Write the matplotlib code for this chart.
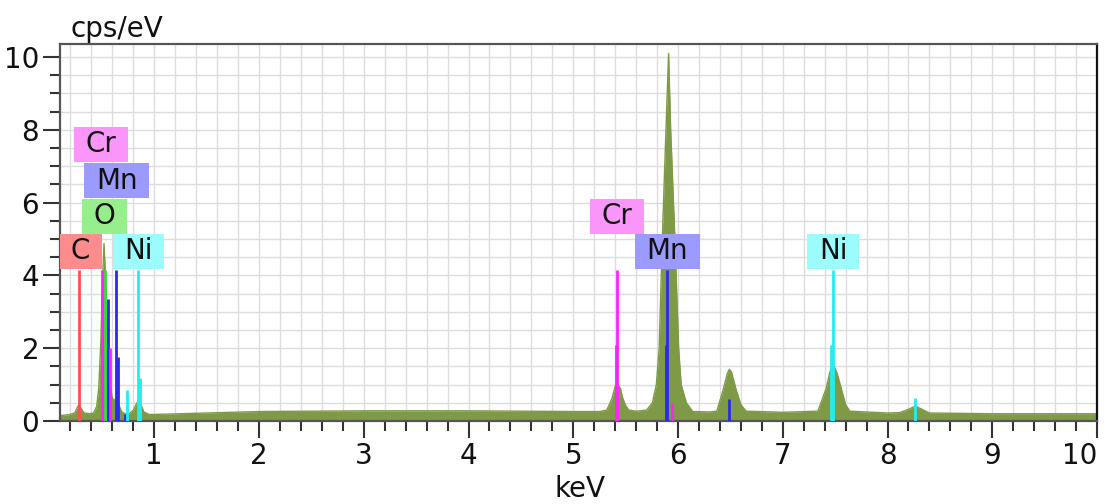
import matplotlib
matplotlib.use('Agg')
import matplotlib.pyplot as plt
from matplotlib.patches import Rectangle
from matplotlib.ticker import MultipleLocator

# spectrum (keV, cps/eV)
energy = [0.10, 0.18, 0.24, 0.27, 0.28, 0.30, 0.33, 0.38, 0.42, 0.45, 0.47, 0.49,
          0.505, 0.52, 0.535, 0.55, 0.565, 0.58, 0.60, 0.62, 0.64, 0.66, 0.69, 0.72,
          0.76, 0.80, 0.83, 0.85, 0.87, 0.90, 0.95, 1.0, 1.5, 2.0, 2.5, 3.0, 3.5,
          4.0, 4.5, 5.0, 5.25, 5.32, 5.37, 5.40, 5.42, 5.45, 5.47, 5.50, 5.53, 5.60,
          5.70, 5.755, 5.793, 5.82, 5.85, 5.885, 5.91, 5.93, 5.97, 6.006, 6.03, 6.08,
          6.14, 6.30, 6.37, 6.43, 6.47, 6.49, 6.51, 6.556, 6.60, 6.65, 7.0, 7.335,
          7.415, 7.45, 7.485, 7.52, 7.558, 7.60, 7.64, 8.0, 8.115, 8.20, 8.267, 8.33,
          8.40, 9.0, 10.0]
counts = [0.15, 0.17, 0.22, 0.40, 0.44, 0.35, 0.22, 0.20, 0.22, 0.40, 0.9, 2.2,
          3.8, 4.88, 3.9, 2.6, 1.6, 0.95, 0.62, 0.58, 0.56, 0.45, 0.25, 0.20,
          0.20, 0.30, 0.48, 0.55, 0.48, 0.25, 0.18, 0.18, 0.22, 0.26, 0.27, 0.28, 0.28,
          0.28, 0.27, 0.26, 0.26, 0.30, 0.62, 0.95, 1.03, 0.90, 0.65, 0.42, 0.30, 0.27,
          0.30, 0.5, 1.0, 2.0, 5.0, 8.0, 10.1, 8.0, 5.0, 2.0, 1.0, 0.5,
          0.26, 0.25, 0.27, 0.85, 1.3, 1.42, 1.35, 0.85, 0.45, 0.27, 0.24, 0.27,
          0.9, 1.35, 1.54, 1.3, 0.9, 0.45, 0.27, 0.22, 0.23, 0.32, 0.41, 0.32,
          0.22, 0.20, 0.20]

# element marker lines
line_elem = ['C', 'O', 'Cr', 'Mn', 'Cr', 'Mn', 'Mn', 'Mn', 'Ni', 'Ni', 'Ni',
             'Cr', 'Cr', 'Cr', 'Mn', 'Mn', 'Mn', 'Ni', 'Ni', 'Ni']
line_keV = [0.277, 0.525, 0.497, 0.556, 0.573, 0.637, 0.649, 0.722, 0.743, 0.849, 0.868,
            5.414, 5.405, 5.947, 5.899, 5.888, 6.490, 7.478, 7.461, 8.265]
line_height = [4.15, 4.15, 4.15, 3.35, 2.0, 4.15, 1.77, 0.2, 0.85, 4.15, 1.18,
               4.15, 2.1, 0.5, 4.15, 2.1, 0.6, 4.15, 2.1, 0.62]

# label boxes
label_names = ['Cr', 'Mn', 'O', 'C', 'Ni', 'Cr', 'Mn', 'Ni']
label_x = [0.495, 0.64, 0.524, 0.295, 0.85, 5.42, 5.90, 7.48]
label_y = [7.6, 6.6, 5.63, 4.67, 4.67, 5.63, 4.66, 4.67]

line_col = {'C': '#ff5050', 'O': '#33dd33', 'Cr': '#ff22ff', 'Mn': '#2a2aee', 'Ni': '#22eeee'}
box_col = {'C': '#ff8c8c', 'O': '#96ee8c', 'Cr': '#fa96fa', 'Mn': '#9b9bff', 'Ni': '#9cfcfc'}

plt.rcParams['font.family'] = ['DejaVu Sans']
plt.rcParams['font.size'] = 20

fig = plt.figure(figsize=(11.07, 5.04), dpi=100)
ax = fig.add_axes([60 / 1107, 83 / 504, 1037 / 1107, 377 / 504])

ax.set_xlim(0.1, 10)
ax.set_ylim(0, 10.36)
ax.xaxis.set_major_locator(MultipleLocator(1))
ax.xaxis.set_minor_locator(MultipleLocator(0.2))
ax.yaxis.set_major_locator(MultipleLocator(2))
ax.yaxis.set_minor_locator(MultipleLocator(0.5))
ax.grid(which='both', color='#dcdcdc', linewidth=1)
ax.set_axisbelow(True)
ax.tick_params(which='major', length=12, width=1.5, color='#333333', labelcolor='#111111', pad=3)
ax.tick_params(which='minor', length=7, width=1.5, color='#333333')
for s in ax.spines.values():
    s.set_color('#555555')
    s.set_linewidth(1.6)
ax.spines['right'].set_color('#111111')

ax.fill_between(energy, counts, 0, color='#7e9a46', linewidth=0, zorder=2)
ax.plot(energy, counts, color='#7e9a46', linewidth=1, zorder=2)

for el, e, h in zip(line_elem, line_keV, line_height):
    ax.vlines(e, 0, h, color=line_col[el], linewidth=2, zorder=3)

fig.canvas.draw()
# keep the last x tick label inside the figure
xlabels = ax.get_xticklabels()
for lab in xlabels:
    if lab.get_text() == '10':
        lab.set_horizontalalignment('right')
        lab.set_x(10.03)

inv = ax.transData.inverted()
for name, x, y in zip(label_names, label_x, label_y):
    t = ax.text(x, y, name, ha='center', va='center', color='#111111', zorder=6)
    bb = t.get_window_extent(fig.canvas.get_renderer())
    x0, y0 = ax.transData.transform((x, y))
    w = bb.width + 23
    (dx0, dy0) = inv.transform((x0 - w / 2, y0 - 17.5))
    (dx1, dy1) = inv.transform((x0 + w / 2, y0 + 17.5))
    ax.add_patch(Rectangle((dx0, dy0), dx1 - dx0, dy1 - dy0, facecolor=box_col[name],
                           edgecolor='none', zorder=5))

ax.text(0.01, 1.019, 'cps/eV', transform=ax.transAxes, va='baseline', ha='left', color='#111111')
fig.text(580 / 1107, 7 / 504, 'keV', ha='center', va='baseline', color='#111111')

fig.savefig('out.png', dpi=100)
